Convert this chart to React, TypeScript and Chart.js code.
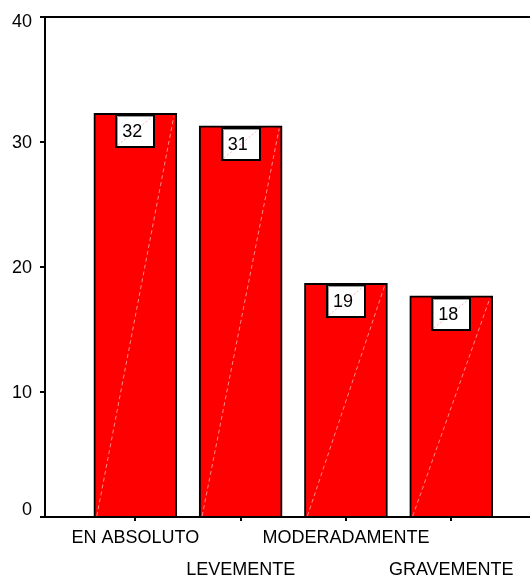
import React, { useEffect, useRef } from "react";
import { Chart, registerables } from "chart.js";

Chart.register(...registerables);

// Response categories and their share of respondents (%)
const categories = ["EN ABSOLUTO", "LEVEMENTE", "MODERADAMENTE", "GRAVEMENTE"];
const percentages = [32.3, 31.3, 18.7, 17.7];
const yTickValues = [0, 10, 20, 30, 40];

const FONT = "'Liberation Sans', Arial, Helvetica, sans-serif";

// Frame line along the top and y tick labels kept inside the axis extent
const framePlugin = {
  id: "frame",
  afterDraw(chart: any) {
    const { ctx, chartArea } = chart;
    const yScale = chart.scales.y;
    ctx.save();
    ctx.strokeStyle = "#000";
    ctx.lineWidth = 2;
    ctx.beginPath();
    ctx.moveTo(chartArea.left - 1, chartArea.top);
    ctx.lineTo(chartArea.right, chartArea.top);
    ctx.stroke();

    ctx.fillStyle = "#000";
    ctx.font = `18px ${FONT}`;
    ctx.textAlign = "right";
    ctx.textBaseline = "middle";
    yTickValues.forEach((v) => {
      const p = yScale.getPixelForValue(v);
      const yy = Math.min(Math.max(p + 1.5, chartArea.top + 5), chartArea.bottom - 7);
      ctx.fillText(String(v), chartArea.left - 13, yy);
    });
    ctx.restore();
  },
};

// Sheen line on each bar and a boxed value label at its top
const valueBoxPlugin = {
  id: "valueBoxes",
  afterDatasetsDraw(chart: any) {
    const { ctx } = chart;
    const meta = chart.getDatasetMeta(0);
    meta.data.forEach((bar: any, i: number) => {
      const { x, y, base, width } = bar.getProps(["x", "y", "base", "width"], true);
      const left = x - width / 2;
      const right = x + width / 2;

      ctx.save();
      ctx.strokeStyle = "rgba(255,170,170,0.8)";
      ctx.lineWidth = 1;
      ctx.setLineDash([4, 3]);
      ctx.beginPath();
      ctx.moveTo(left + 3, base);
      ctx.lineTo(right - 3, y + 3);
      ctx.stroke();
      ctx.restore();

      const bw = 40;
      const bh = 34;
      const bx = Math.round(x - bw / 2);
      const by = Math.round(y) + 1;

      ctx.save();
      ctx.fillStyle = "#fff";
      ctx.fillRect(bx, by, bw, bh);

      ctx.strokeStyle = "rgba(255,160,160,0.8)";
      ctx.lineWidth = 1;
      ctx.setLineDash([2, 2]);
      ctx.beginPath();
      ctx.moveTo(bx + 3, by + bh - 3);
      ctx.lineTo(bx + bw - 3, by + 3);
      ctx.stroke();
      ctx.setLineDash([]);

      ctx.strokeStyle = "#000";
      ctx.lineWidth = 2;
      ctx.strokeRect(bx + 1, by + 1, bw - 2, bh - 2);

      ctx.strokeStyle = "#9a9a9a";
      ctx.lineWidth = 1;
      ctx.beginPath();
      ctx.moveTo(bx + 2.5, by + bh - 2);
      ctx.lineTo(bx + 2.5, by + 2.5);
      ctx.lineTo(bx + bw - 2, by + 2.5);
      ctx.stroke();

      ctx.fillStyle = "#000";
      ctx.font = `18px ${FONT}`;
      ctx.textAlign = "center";
      ctx.textBaseline = "middle";
      ctx.fillText(percentages[i].toFixed(0), x - 3, by + 18);
      ctx.restore();
    });
  },
};

export default function App() {
  const canvasRef = useRef<HTMLCanvasElement | null>(null);

  useEffect(() => {
    document.body.style.margin = "0";
    const canvas = canvasRef.current;
    if (!canvas) return;

    const chart = new Chart(canvas, {
      type: "bar",
      data: {
        datasets: [
          {
            data: categories.map((_, i) => ({ x: i, y: percentages[i] })),
            backgroundColor: "#ff0000",
            borderColor: "#000",
            borderWidth: 2,
            borderSkipped: "bottom",
            barThickness: 83,
          },
        ],
      },
      options: {
        animation: false,
        responsive: false,
        maintainAspectRatio: false,
        layout: { padding: { top: 17, left: 0, right: 0, bottom: 0 } },
        plugins: {
          legend: { display: false },
          tooltip: { enabled: false },
        },
        scales: {
          x: {
            type: "linear",
            offset: false,
            min: -0.858,
            max: 3.748,
            afterBuildTicks: (scale: any) => {
              scale.ticks = categories.map((_, i) => ({ value: i }));
            },
            afterFit: (scale: any) => {
              scale.height = 63;
            },
            grid: {
              display: true,
              offset: false,
              drawOnChartArea: false,
              drawTicks: true,
              tickLength: 4,
              color: "#000",
              lineWidth: 2,
            },
            border: { display: true, color: "#000", width: 2 },
            ticks: {
              autoSkip: false,
              maxRotation: 0,
              minRotation: 0,
              padding: 1,
              color: "#000",
              font: { family: FONT, size: 18, lineHeight: 32 / 18 },
              callback: (value: any) => {
                const i = Math.round(Number(value));
                const label = categories[i] ?? "";
                return i % 2 === 1 ? ["", label] : label;
              },
            },
          },
          y: {
            min: 0,
            max: 40,
            afterBuildTicks: (scale: any) => {
              scale.ticks = yTickValues.map((v) => ({ value: v }));
            },
            afterFit: (scale: any) => {
              scale.width = 45;
            },
            grid: {
              display: true,
              drawOnChartArea: false,
              drawTicks: true,
              tickLength: 5,
              color: "#000",
              lineWidth: 2,
            },
            border: { display: true, color: "#000", width: 2 },
            ticks: { display: false },
          },
        },
      },
      plugins: [valueBoxPlugin, framePlugin],
    });

    return () => chart.destroy();
  }, []);

  return (
    <div style={{ position: "absolute", left: 0, top: 0, width: 530, height: 580, background: "#fff" }}>
      <canvas ref={canvasRef} width={530} height={580} />
    </div>
  );
}
